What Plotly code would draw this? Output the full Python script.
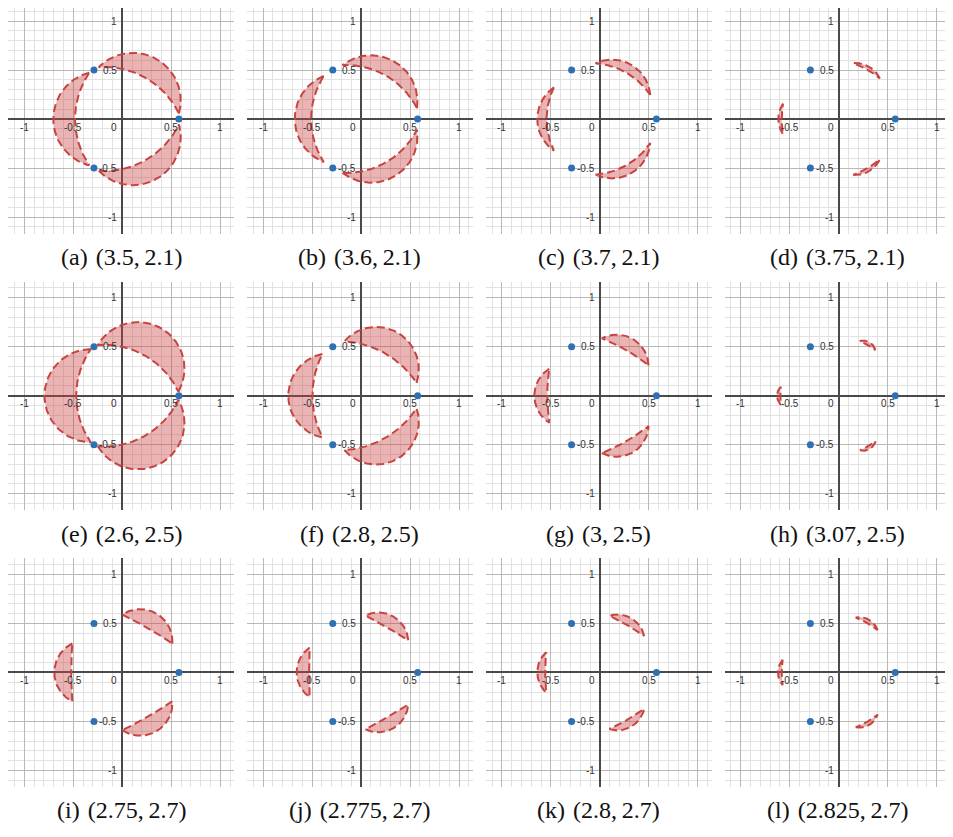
import numpy as np
import plotly.graph_objects as go

# ---------------- data ----------------
panel_letters = ["a", "b", "c", "d", "e", "f", "g", "h", "i", "j", "k", "l"]
param_first = ["3.5", "3.6", "3.7", "3.75", "2.6", "2.8", "3", "3.07", "2.75", "2.775", "2.8", "2.825"]
param_second = ["2.1", "2.1", "2.1", "2.1", "2.5", "2.5", "2.5", "2.5", "2.7", "2.7", "2.7", "2.7"]

# left crescent of every panel (the other two are its 120 degree rotations)
tip_x = [-0.337, -0.381, -0.469, -0.568, -0.321, -0.395, -0.517, -0.591, -0.510, -0.525, -0.548, -0.571]
tip_y = [0.473, 0.439, 0.323, 0.158, 0.476, 0.426, 0.275, 0.092, 0.296, 0.253, 0.206, 0.130]
outer_x = [-0.704, -0.677, -0.639, -0.616, -0.794, -0.743, -0.669, -0.629, -0.694, -0.658, -0.639, -0.620]
inner_x = [-0.483, -0.510, -0.544, -0.582, -0.470, -0.497, -0.537, -0.596, -0.522, -0.530, -0.558, -0.582]

point_x = [0.577, -0.289, -0.289]
point_y = [0.0, 0.5, -0.5]

tick_vals = [-1, -0.5, 0.5, 1]
tick_text = ["-1", "-0.5", "0.5", "1"]

# ---------------- layout constants ----------------
PAGE_OFFSET = 8          # default body margin of the html page
W, H = 953 - PAGE_OFFSET, 837 - PAGE_OFFSET
PX_PER_UNIT = 98.0
X_RANGE = [-1.165, 1.14]
Y_RANGE = [-1.17, 1.165]
COL_X0 = 122.3 - PAGE_OFFSET
COL_PITCH = 238.8
ROW_Y0 = 119.0 - PAGE_OFFSET
ROW_PITCH = 276.7
CAPTION_DY = 138.0

RED = "#c74440"
BLUE = "#2d70b3"


def arc(xt, yt, xv, n=80):
    c = (xv ** 2 - xt ** 2 - yt ** 2) / (2 * (xv - xt))
    r = abs(xv - c)
    thv = np.pi if xv < c else 0.0
    phi = np.arctan2(yt, xt - c)
    t = np.linspace(phi, 2 * thv - phi, n)
    return c + r * np.cos(t), r * np.sin(t)


fig = go.Figure()
annotations = []
layout_axes = {}

for i in range(12):
    r, c = divmod(i, 4)
    ax = "" if i == 0 else str(i + 1)
    xref, yref = "x" + ax, "y" + ax
    x0px = COL_X0 + COL_PITCH * c
    y0px = ROW_Y0 + ROW_PITCH * r
    left = max(x0px + X_RANGE[0] * PX_PER_UNIT, 0)
    right = min(x0px + X_RANGE[1] * PX_PER_UNIT, W)
    xr = [(left - x0px) / PX_PER_UNIT, (right - x0px) / PX_PER_UNIT]
    top = max(y0px - Y_RANGE[1] * PX_PER_UNIT, 0)
    bottom = min(y0px - Y_RANGE[0] * PX_PER_UNIT, H)
    yr = [(y0px - bottom) / PX_PER_UNIT, (y0px - top) / PX_PER_UNIT]

    common = dict(
        showticklabels=False, ticks="", showline=False,
        showgrid=True, gridcolor="#b8b8b8", gridwidth=1,
        tick0=0, dtick=0.5,
        minor=dict(tick0=0, dtick=0.1, showgrid=True, gridcolor="#e2e2e2", gridwidth=1, ticks=""),
        zeroline=True, zerolinecolor="#4a4a4a", zerolinewidth=1.8,
        fixedrange=True,
    )
    layout_axes["xaxis" + ax] = dict(common, domain=[left / W, right / W], range=xr,
                                     anchor=yref)
    layout_axes["yaxis" + ax] = dict(common, domain=[1 - bottom / H, 1 - top / H], range=yr,
                                     anchor=xref)

    ox, oy = arc(tip_x[i], tip_y[i], outer_x[i])
    ix, iy = arc(tip_x[i], tip_y[i], inner_x[i])
    bx = np.concatenate([ox, ix[::-1]])
    by = np.concatenate([oy, iy[::-1]])
    for k in range(3):
        a = np.deg2rad(120 * k)
        rx = bx * np.cos(a) - by * np.sin(a)
        ry = bx * np.sin(a) + by * np.cos(a)
        fig.add_trace(go.Scatter(
            x=rx, y=ry, mode="lines", fill="toself",
            fillcolor="rgba(199,68,64,0.40)",
            line=dict(color=RED, width=2, dash="8px,4px"),
            xaxis=xref, yaxis=yref, hoverinfo="skip", showlegend=False,
        ))
    fig.add_trace(go.Scatter(
        x=point_x, y=point_y, mode="markers",
        marker=dict(color=BLUE, size=7),
        xaxis=xref, yaxis=yref, hoverinfo="skip", showlegend=False,
    ))

    lab_font = dict(family="Liberation Sans", size=10, color="#333333")
    for v, t in zip(tick_vals, tick_text):
        annotations.append(dict(x=v, y=0, xref=xref, yref=yref, text=t, showarrow=False,
                                yshift=-8, font=lab_font, xanchor="center", yanchor="middle"))
        annotations.append(dict(x=0, y=v, xref=xref, yref=yref, text=t, showarrow=False,
                                xshift=-3, font=lab_font, xanchor="right", yanchor="middle"))
    annotations.append(dict(x=0, y=0, xref=xref, yref=yref, text="0", showarrow=False,
                            xshift=-3, yshift=-8, font=lab_font, xanchor="right", yanchor="middle"))

    cx = (x0px + (X_RANGE[0] + X_RANGE[1]) / 2 * PX_PER_UNIT)
    cap = f"({panel_letters[i]})\u2004({param_first[i]},\u2009{param_second[i]})"
    annotations.append(dict(x=cx / W, y=1 - (y0px + CAPTION_DY) / H,
                            xref="paper", yref="paper", text=cap, showarrow=False,
                            xanchor="center", yanchor="middle",
                            font=dict(family="Liberation Serif", size=24, color="#111111")))

fig.update_layout(
    width=W, height=H, margin=dict(l=0, r=0, t=0, b=0),
    paper_bgcolor="white", plot_bgcolor="white",
    showlegend=False, annotations=annotations, **layout_axes,
)

fig.write_html("out.html")
